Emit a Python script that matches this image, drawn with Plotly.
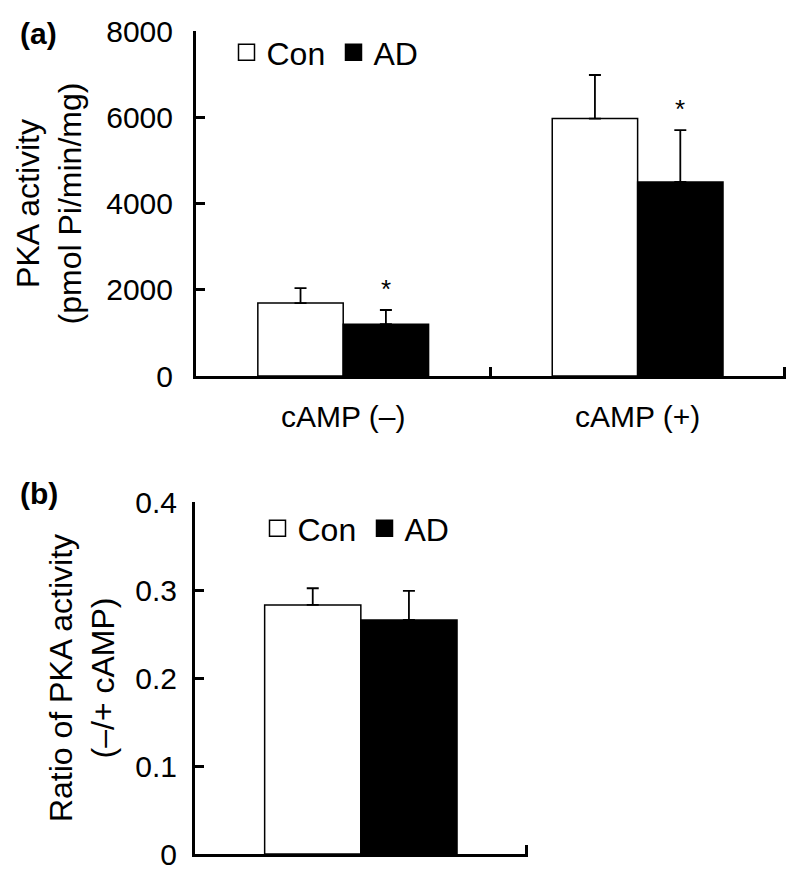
import plotly.graph_objects as go

# ---------------- data ----------------
categories_a = ["cAMP (–)", "cAMP (+)"]
con_a = [1690, 5970]
con_err_a = [350, 1010]
ad_a = [1200, 4500]
ad_err_a = [330, 1200]
signif_a = ["*", "*"]

categories_b = ["ratio"]
con_b = [0.283]
con_err_b = [0.019]
ad_b = [0.266]
ad_err_b = [0.033]

yticks_a = [0, 2000, 4000, 6000, 8000]
yticks_b = [0, 0.1, 0.2, 0.3, 0.4]

groups = ["Con", "AD"]

# ---------------- style ----------------
FONT = "Arial, 'Liberation Sans', sans-serif"
BARGAP = 0.42
OFF = 8                      # page body margin
W, H = 800 - OFF, 880 - OFF  # figure size
EPS = 0.004                  # lets the closing boundary tick be drawn


def px_x(p):
    return (p - OFF) / W


def px_y(p):
    return (H - (p - OFF)) / H


fig = go.Figure()


def bar(x, y, err, name, fill, xa, ya):
    return go.Bar(
        x=x, y=y, name=name, xaxis=xa, yaxis=ya, showlegend=False,
        marker=dict(color=fill, line=dict(color="black", width=1.5)),
        error_y=dict(type="data", array=err, arrayminus=[0] * len(err),
                     symmetric=False, color="black", thickness=1.8, width=6),
    )


fig.add_trace(bar(categories_a, con_a, con_err_a, groups[0], "white", "x", "y"))
fig.add_trace(bar(categories_a, ad_a, ad_err_a, groups[1], "black", "x", "y"))
fig.add_trace(bar(categories_b, con_b, con_err_b, groups[0], "white", "x2", "y2"))
fig.add_trace(bar(categories_b, ad_b, ad_err_b, groups[1], "black", "x2", "y2"))

# legend entries (square markers)
for lg, xa, ya in [("legend", "x", "y"), ("legend2", "x2", "y2")]:
    for name, fill in zip(groups, ["white", "black"]):
        fig.add_trace(go.Scatter(
            x=[None], y=[None], mode="markers", name=name, legend=lg,
            xaxis=xa, yaxis=ya, showlegend=True,
            marker=dict(symbol="square", size=22, color=fill,
                        line=dict(color="black", width=1.5)),
        ))

axis_common = dict(
    showline=True, linewidth=3, linecolor="black", mirror=False,
    ticks="inside", ticklen=9, tickwidth=3, tickcolor="black",
    showgrid=False, zeroline=False, automargin=False,
    tickfont=dict(family=FONT, size=30, color="black"),
)

fig.update_layout(
    width=W, height=H,
    template="none",
    paper_bgcolor="white", plot_bgcolor="white",
    margin=dict(l=0, r=0, t=0, b=0, autoexpand=False),
    barmode="group", bargap=BARGAP, bargroupgap=0,
    font=dict(family=FONT, color="black"),
    xaxis=dict(domain=[px_x(196), px_x(786)], anchor="y", type="category",
               range=[-0.5, len(categories_a) - 0.5 + EPS],
               tickson="boundaries", ticklabelstandoff=12, **axis_common),
    yaxis=dict(domain=[px_y(376), px_y(31)], anchor="x",
               range=[0, 8000], tickvals=yticks_a, tickformat="d",
               ticklabelstandoff=14,
               title=dict(text="PKA activity<br>(pmol Pi/min/mg)",
                          font=dict(family=FONT, size=32, color="black"),
                          standoff=16),
               **axis_common),
    xaxis2=dict(domain=[px_x(195), px_x(528)], anchor="y2", type="category",
                range=[-0.5, len(categories_b) - 0.5 + EPS],
                tickson="boundaries", showticklabels=False, **axis_common),
    yaxis2=dict(domain=[px_y(854), px_y(502)], anchor="x2",
                range=[0, 0.4], tickvals=yticks_b,
                ticklabelstandoff=9,
                title=dict(text="Ratio of PKA activity<br>(–/+ cAMP)",
                           font=dict(family=FONT, size=32, color="black"),
                           standoff=12),
                **axis_common),
    legend=dict(orientation="h", x=px_x(226.5), xanchor="left",
                y=px_y(52.5), yanchor="middle",
                font=dict(family=FONT, size=32, color="black"),
                bgcolor="rgba(0,0,0,0)", itemsizing="trace", entrywidth=62,
                entrywidthmode="pixels"),
    legend2=dict(orientation="h", x=px_x(257.5), xanchor="left",
                 y=px_y(528.5), yanchor="middle",
                 font=dict(family=FONT, size=32, color="black"),
                 bgcolor="rgba(0,0,0,0)", itemsizing="trace", entrywidth=62,
                 entrywidthmode="pixels"),
)

# significance asterisks above AD bars
offset = (1 - BARGAP) / 4
for i, s in enumerate(signif_a):
    if s:
        fig.add_annotation(x=i + offset, y=ad_a[i] + ad_err_a[i], xref="x", yref="y",
                           text=s, showarrow=False, yanchor="middle", yshift=21,
                           font=dict(family=FONT, size=26, color="black"))

# panel labels
for lab, ypx in [("<b>(a)</b>", 33), ("<b>(b)</b>", 493)]:
    fig.add_annotation(x=px_x(18), y=px_y(ypx), xref="paper", yref="paper",
                       text=lab, showarrow=False, xanchor="left", yanchor="middle",
                       font=dict(family=FONT, size=30, color="black"))

fig.write_html("out.html")
